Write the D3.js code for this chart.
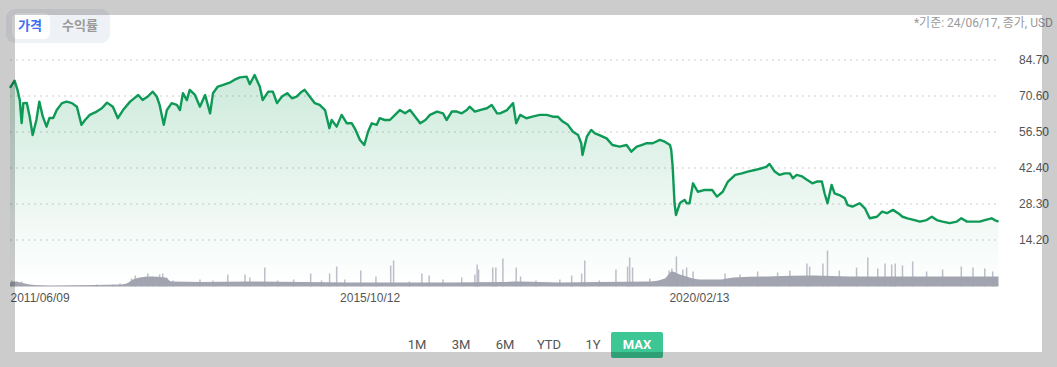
<!DOCTYPE html>
<html><head><meta charset="utf-8">
<script src="https://cdn.jsdelivr.net/npm/d3@7"></script>
<style>
html,body{margin:0;padding:0;background:#fff;}
svg{display:block;font-family:Roboto,"Noto Sans CJK KR","Noto Sans",sans-serif;}
</style></head>
<body>
<svg id="chart" width="1057" height="367"></svg>
<script>
// ---------------- DATA ----------------
const priceDates = ["2011-06-09","2011-07-01","2011-07-15","2011-07-26","2011-08-04","2011-08-12","2011-08-29","2011-09-12","2011-09-26","2011-10-14","2011-10-28","2011-11-14","2011-12-02","2011-12-16",
"2012-01-03","2012-01-20","2012-02-14","2012-03-08","2012-04-02","2012-04-26","2012-05-18","2012-06-04","2012-06-27","2012-07-30","2012-08-24","2012-09-18","2012-10-16","2012-11-09","2012-12-04",
"2013-01-07","2013-02-15","2013-03-08","2013-04-02","2013-04-26","2013-05-15","2013-05-29","2013-06-18","2013-07-03","2013-07-26","2013-08-20","2013-09-04","2013-09-18","2013-10-07","2013-10-21","2013-11-15","2013-12-09",
"2014-01-03","2014-01-27","2014-02-10","2014-03-05","2014-03-28","2014-05-01","2014-05-23","2014-06-19","2014-07-22","2014-08-06","2014-08-29","2014-09-23","2014-10-07","2014-11-03","2014-11-25","2014-12-15",
"2015-01-08","2015-02-02","2015-02-25","2015-03-19","2015-04-13","2015-04-27","2015-05-21","2015-06-15","2015-07-08","2015-08-03","2015-08-24","2015-09-04","2015-09-28","2015-10-22","2015-11-16","2015-12-10","2015-12-28",
"2016-01-18","2016-02-08","2016-02-26","2016-03-15","2016-04-08","2016-04-22","2016-05-16","2016-06-10","2016-07-05","2016-07-28","2016-08-22","2016-09-15","2016-10-10","2016-11-03","2016-11-28","2016-12-20",
"2017-01-23","2017-02-21","2017-03-10","2017-04-04","2017-04-28","2017-05-22","2017-06-15","2017-06-29","2017-07-24","2017-08-17","2017-09-20","2017-10-13","2017-11-08","2017-11-22","2017-12-26",
"2018-01-24","2018-02-08","2018-02-27","2018-03-29","2018-04-27","2018-06-01","2018-07-05","2018-08-03","2018-08-27","2018-09-20","2018-10-15","2018-11-08","2018-12-03","2018-12-18","2018-12-24",
"2019-01-14","2019-02-04","2019-02-22","2019-03-15","2019-04-19","2019-05-17","2019-06-21","2019-07-24","2019-08-16","2019-09-11","2019-10-04","2019-10-29","2019-11-27","2019-12-31",
"2020-01-24","2020-02-18","2020-02-24","2020-03-02","2020-03-11","2020-03-18","2020-04-06","2020-04-14","2020-04-29","2020-05-08","2020-05-22","2020-06-08","2020-07-01","2020-08-04","2020-09-08","2020-10-01","2020-10-29","2020-11-23","2020-12-28",
"2021-01-29","2021-02-26","2021-04-01","2021-05-04","2021-05-28","2021-06-11","2021-07-06","2021-07-30","2021-08-23","2021-09-17","2021-10-01","2021-10-20","2021-11-15","2021-12-08",
"2022-01-03","2022-01-25","2022-02-18","2022-03-03","2022-03-17","2022-04-06","2022-04-20","2022-05-13","2022-06-08","2022-06-22","2022-07-15","2022-08-19","2022-09-13","2022-10-06","2022-11-10","2022-12-05","2022-12-28",
"2023-01-26","2023-02-20","2023-03-13","2023-04-06","2023-05-10","2023-06-05","2023-07-07","2023-08-01","2023-08-25","2023-09-22","2023-10-26","2023-11-29","2023-12-21",
"2024-01-17","2024-02-15","2024-03-19","2024-04-12","2024-05-15","2024-05-29","2024-06-17"];
const priceValues = [73.8,76.6,73,69,60,67.8,67.9,62.4,55.3,61.2,68.4,62.5,58.6,62,
62,65.1,67.8,68.4,67.8,66.4,59.3,61.2,63.2,64.5,65.8,68,66.4,61.9,65.1,
68.4,71,69,70.4,72.3,70.4,67.1,59.3,65.1,67.8,67.1,65.1,71.7,69,73,71,66.4,
71,63.8,71.7,74.3,74.9,75.8,76.9,77.9,78.2,75.2,78.8,74.3,69,72.3,72.3,67.8,
70.4,71.7,69.7,70.4,72.3,73,70.4,67.8,67.1,65.1,58,61.2,58.6,63.2,59.9,59.9,57.3,
53.4,51.4,56.6,59.9,59.3,61.9,61.2,61.2,63.2,65.1,63.8,65.1,62.5,59.9,61.2,63.2,
64.5,63.8,61.2,64.5,64.5,63.8,65.1,66.4,64.5,65.1,65.8,67.1,63.8,63.8,65.1,
67.8,59.9,63.2,61.9,62.5,63.2,63.2,62.5,62.5,60.6,59.3,56.6,55.3,52.1,47.5,
54.7,57.3,56,55.3,54,51.4,50.8,51.4,48.8,50.8,51.4,52.1,52.1,53.4,
52.7,51.4,49.5,42.9,28.6,24,28.6,29.2,29.9,28.6,28.6,36.4,33.1,33.8,33.8,31.2,33.1,37.1,39.7,
40.3,41,41.6,42.3,42.9,44,41,39.7,40.3,40.3,38.4,39.7,39.1,37.8,
36.4,37.1,37.1,32.5,28.6,35.8,32.5,31.8,30.6,27.9,27.3,28.6,26.6,22.7,23.3,25.3,24.7,
26,24.7,23.3,22.7,22,21.4,22,23.3,22,21.4,20.8,21.4,22.7,
21.4,21.4,21.4,22,22.7,22,21.4];

// volume: typical daily level and notable spikes
const volBaseDates = ["2011-06-09","2011-07-01","2011-08-19","2011-10-06","2011-12-17","2012-07-21","2012-11-19","2012-12-21","2013-01-21","2013-02-25","2013-04-11","2013-06-24","2013-07-26","2013-12-09","2014-08-06","2015-04-13","2015-11-30","2016-07-28","2017-03-24","2017-11-22","2018-02-27","2018-09-06","2019-03-15","2019-11-13","2020-01-24","2020-02-27","2020-04-06","2020-05-22","2020-07-10","2020-10-15","2020-12-20","2021-06-01","2022-01-10","2022-07-01","2023-02-28","2023-10-26","2024-06-17"];
const volBaseValues = [4,5,3,1.5,1,1.5,2,3,7,9,10,9,5,4.5,5,4.5,4,4,4,4.5,5,4,4.5,5,8,15,12,9,7,7,9,10,11,10,10,10,10];
const volSpikeDates = ["2011-06-17","2011-07-11","2011-08-04","2012-07-30","2012-10-16","2012-11-19","2013-01-14","2013-02-01","2013-03-04","2013-04-02","2013-04-25","2013-05-29","2013-06-13","2013-07-02","2013-08-01","2013-12-09","2014-02-10","2014-04-22","2014-07-14","2014-08-06","2014-10-17","2014-12-18","2015-03-05","2015-05-26","2015-07-17","2015-08-25","2015-09-28","2015-11-06","2016-01-22","2016-04-04","2016-06-14","2016-06-28","2016-09-12","2016-11-11","2016-12-16","2017-02-21","2017-05-22","2017-07-24","2017-08-04","2017-08-11","2017-10-18","2017-11-02","2017-12-06","2018-02-08","2018-03-01","2018-05-14","2018-09-06","2018-11-02","2018-12-20","2019-01-04","2019-03-15","2019-06-03","2019-07-29","2019-08-08","2019-08-22","2019-11-13","2020-02-14","2020-02-27","2020-03-20","2020-04-20","2020-05-08","2020-06-08","2020-11-09","2021-01-20","2021-04-15","2021-07-20","2021-09-17","2021-12-08","2021-12-21","2022-02-23","2022-03-17","2022-05-13","2022-08-04","2022-09-27","2022-11-14","2022-12-19","2023-01-20","2023-02-06","2023-03-13","2023-05-01","2023-07-07","2023-09-22","2023-12-21","2024-02-15","2024-04-12","2024-05-20"];
const volSpikeValues = [6,5,5,2,2,3,8,11,9,13,10,12,13,9,6,7,6,12,12,9,19,6,7,13,6,13,20,7,16,10,21,26,5,13,11,7,9,12,22,17,19,19,28,19,10,6,7,11,13,26,6,17,20,29,19,8,16,18,30,17,19,15,13,12,15,14,16,23,20,23,36,16,19,29,18,23,22,23,21,25,15,17,20,19,18,15];

const yTicks = [14.20, 28.30, 42.40, 56.50, 70.60, 84.70];
const xTickLabels = ["2011/06/09","2015/10/12","2020/02/13"];
const rangeButtons = ["1M","3M","6M","YTD","1Y","MAX"];
const activeRange = "MAX";
const tabs = ["가격","수익률"];
const noteText = "*기준: 24/06/17, 종가, USD";

// ---------------- CHART ----------------
const parse = d3.timeParse("%Y-%m-%d");
const price = priceDates.map((d,i)=>({date:parse(d), v:priceValues[i]}));
const volBase = volBaseDates.map((d,i)=>({date:parse(d), v:volBaseValues[i]}));
const volSpikes = volSpikeDates.map((d,i)=>({date:parse(d), v:volSpikeValues[i]}));

const svg = d3.select("#chart");
const x = d3.scaleTime().domain([parse("2011-06-09"), parse("2024-06-17")]).range([10, 998.5]);
const y = d3.scaleLinear().domain([14.2, 84.7]).range([240, 60]);
const vy = d3.scaleLinear().domain([0, 40]).range([286.5, 246.5]);

const defs = svg.append("defs");
const grad = defs.append("linearGradient").attr("id","areaGrad")
  .attr("gradientUnits","userSpaceOnUse").attr("x1",0).attr("x2",0).attr("y1",60).attr("y2",286);
grad.append("stop").attr("offset","0").attr("stop-color","#0d9a55").attr("stop-opacity",0.22);
grad.append("stop").attr("offset","0.75").attr("stop-color","#0d9a55").attr("stop-opacity",0.05);
grad.append("stop").attr("offset","1").attr("stop-color","#0d9a55").attr("stop-opacity",0.0);

// gridlines
svg.append("g").selectAll("line").data(yTicks).join("line")
  .attr("x1",10).attr("x2",998).attr("y1",d=>y(d)).attr("y2",d=>y(d))
  .attr("stroke","#dedede").attr("stroke-width",1.5).attr("stroke-dasharray","2,4");

// area
svg.append("path").datum(price)
  .attr("d", d3.area().x(d=>x(d.date)).y0(286).y1(d=>y(d.v)))
  .attr("fill","url(#areaGrad)");

// volume
svg.append("path").datum(volBase)
  .attr("d", d3.area().x(d=>x(d.date)).y0(vy(0)).y1(d=>vy(d.v)).curve(d3.curveMonotoneX))
  .attr("fill","#a2a4b0");
svg.append("g").selectAll("rect").data(volSpikes).join("rect")
  .attr("x", d=>x(d.date)-0.75).attr("width",1.5)
  .attr("y", d=>vy(d.v)).attr("height", d=>vy(0)-vy(d.v))
  .attr("fill","#a2a4b0").attr("opacity",0.7);

// price line
svg.append("path").datum(price)
  .attr("d", d3.line().x(d=>x(d.date)).y(d=>y(d.v)))
  .attr("fill","none").attr("stroke","#0e9a56").attr("stroke-width",2.4).attr("stroke-linejoin","round");

// y axis (right)
const yAxis = d3.axisRight(y).tickValues(yTicks).tickFormat(d3.format(".2f")).tickSize(0).tickPadding(0);
const gy = svg.append("g").attr("transform","translate(1019,0)").call(yAxis);
gy.select(".domain").remove();
gy.selectAll("text").attr("fill","#555").style("font-size","12px");

// x axis
const xTickDates = xTickLabels.map(s=>d3.timeParse("%Y/%m/%d")(s));
const xAxis = d3.axisBottom(x).tickValues(xTickDates).tickFormat(d3.timeFormat("%Y/%m/%d")).tickSize(0).tickPadding(0);
const gx = svg.append("g").attr("transform","translate(0,293)").call(xAxis);
gx.select(".domain").remove();
gx.selectAll("text").attr("text-anchor","start").attr("fill","#555").style("font-size","12px");

// note
svg.append("text").attr("x",1053).attr("y",27).attr("text-anchor","end")
  .attr("fill","#9a9a9a").style("font-size","12px").text(noteText);

// tabs
svg.append("rect").attr("x",6).attr("y",9).attr("width",104).attr("height",34).attr("rx",9).attr("fill","#eef1f5");
svg.append("rect").attr("x",12).attr("y",13).attr("width",38).attr("height",26).attr("rx",6).attr("fill","#fff");
const tabX = [30, 80];
svg.append("g").selectAll("text").data(tabs).join("text")
  .attr("x",(d,i)=>tabX[i]).attr("y",30).attr("text-anchor","middle")
  .style("font-size","13px").style("font-weight","700")
  .attr("fill",(d,i)=>i===0?"#3d6df2":"#9a9a9a").text(d=>d);

// range buttons
const btnX = d3.scalePoint().domain(rangeButtons).range([417, 637]);
const bg = svg.append("g");
bg.append("rect").attr("x",btnX(activeRange)-26).attr("y",332).attr("width",52).attr("height",26).attr("rx",2).attr("fill","#3cc794");
bg.selectAll("text").data(rangeButtons).join("text")
  .attr("x",d=>btnX(d)).attr("y",349).attr("text-anchor","middle")
  .style("font-size","13px").style("font-weight",d=>d===activeRange?"700":"400")
  .attr("fill",d=>d===activeRange?"#fff":"#555").text(d=>d);

// modal-like overlay frame
const ov = svg.append("g").attr("fill","rgba(0,0,0,0.2)");
ov.append("rect").attr("x",0).attr("y",0).attr("width",1057).attr("height",15);
ov.append("rect").attr("x",0).attr("y",352).attr("width",1057).attr("height",15);
ov.append("rect").attr("x",0).attr("y",15).attr("width",15).attr("height",337);
ov.append("rect").attr("x",1042).attr("y",15).attr("width",15).attr("height",337);
</script>
</body></html>
